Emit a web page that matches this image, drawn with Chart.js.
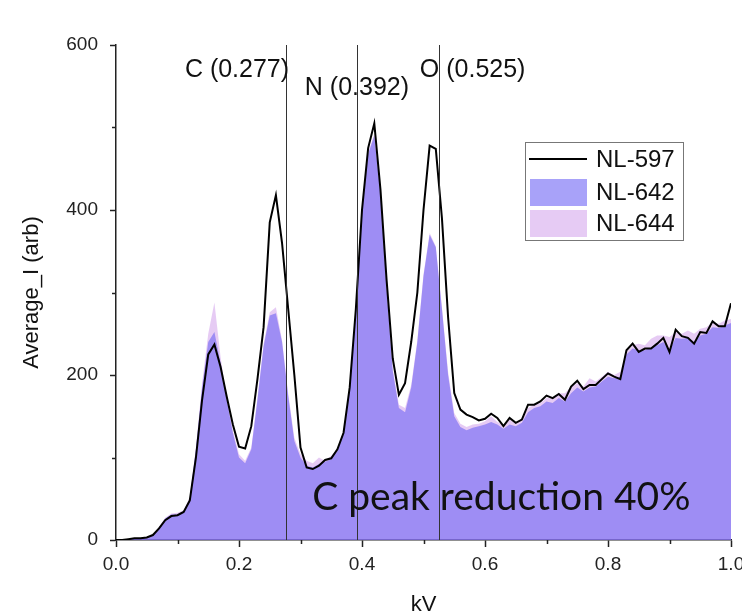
<!DOCTYPE html>
<html>
<head>
<meta charset="utf-8">
<script src="https://cdn.jsdelivr.net/npm/chart.js@4/dist/chart.umd.min.js"></script>
<style>
html, body { margin: 0; padding: 0; background: #fff; overflow: hidden; }
#wrap { width: 742px; height: 616px; position: relative; }
</style>
</head>
<body>
<div id="wrap"><canvas id="mycanvas" width="742" height="616"></canvas></div>
<script>
// energy axis (kV)
var kv = [0.00,0.01,0.02,0.03,0.04,0.05,0.06,0.07,0.08,0.09,
  0.10,0.11,0.12,0.13,0.14,0.15,0.16,0.17,0.18,0.19,
  0.20,0.21,0.22,0.23,0.24,0.25,0.26,0.27,0.28,0.29,
  0.30,0.31,0.32,0.33,0.34,0.35,0.36,0.37,0.38,0.39,
  0.40,0.41,0.42,0.43,0.44,0.45,0.46,0.47,0.48,0.49,
  0.50,0.51,0.52,0.53,0.54,0.55,0.56,0.57,0.58,0.59,
  0.60,0.61,0.62,0.63,0.64,0.65,0.66,0.67,0.68,0.69,
  0.70,0.71,0.72,0.73,0.74,0.75,0.76,0.77,0.78,0.79,
  0.80,0.81,0.82,0.83,0.84,0.85,0.86,0.87,0.88,0.89,
  0.90,0.91,0.92,0.93,0.94,0.95,0.96,0.97,0.98,0.99,1.00];

var nl597 = [0,0,1,2,2,3,6,14,24,29,
  30,34,48,100,170,225,237,210,174,140,
  113,111,138,195,258,385,418,360,280,200,
  112,88,86,90,97,99,110,130,185,280,
  400,475,505,425,315,220,176,190,240,300,
  400,478,474,390,270,178,158,152,149,145,
  147,153,148,138,148,142,146,164,164,168,
  175,172,177,170,186,193,183,188,188,195,
  202,198,195,230,238,228,232,232,238,245,
  228,255,247,245,238,252,251,265,259,259,287];

var nl642 = [0,0,1,2,2,3,6,15,26,31,
  31,35,50,110,185,240,252,215,170,130,
  100,93,110,170,235,272,275,240,175,120,
  100,90,88,92,95,98,108,130,185,280,
  400,468,490,420,305,205,160,155,185,240,
  320,370,355,280,200,150,137,133,136,138,
  140,143,140,135,140,138,142,155,160,162,
  168,166,172,168,178,185,180,185,186,192,
  198,196,198,225,232,230,230,233,236,240,
  230,245,244,245,240,248,250,258,257,260,263];

var nl644 = [0,0,1,2,2,3,6,16,27,32,
  33,36,52,112,190,250,288,222,172,133,
  104,96,112,172,238,276,282,242,178,124,
  104,96,93,100,96,102,110,132,186,282,
  402,470,492,418,306,208,164,160,188,242,
  322,372,356,282,204,154,141,137,140,141,
  144,150,143,140,146,141,148,160,164,166,
  172,172,178,178,186,190,186,196,192,198,
  204,200,204,228,236,238,236,244,248,248,
  246,252,250,254,250,256,258,264,262,266,268];

var seriesNames = ['NL-597', 'NL-642', 'NL-644'];
var peakLabels = ['C (0.277)', 'N (0.392)', 'O (0.525)'];
var peakKv = [0.277, 0.392, 0.525];
// where each peak label sits (kV of its left edge, intensity of its middle)
var peakLabelKv = [0.112, 0.307, 0.494];
var peakLabelI = [570, 548, 570];
var note = 'C peak reduction 40%';

function pts(ys) {
  var out = [];
  for (var i = 0; i < kv.length; i++) out.push({x: kv[i], y: ys[i]});
  return out;
}

var extras = {
  id: 'extras',
  afterDatasetsDraw: function(chart) {
    var ctx = chart.ctx;
    var xs = chart.scales.x, ys = chart.scales.y;
    var area = chart.chartArea;
    ctx.save();

    // minor ticks
    ctx.strokeStyle = '#222';
    ctx.lineWidth = 1.5;
    xs.ticks.forEach(function(t, i) {
      if (i % 2 == 1) {
        var px = Math.round(xs.getPixelForValue(t.value)) + 0.5;
        ctx.beginPath(); ctx.moveTo(px, area.bottom); ctx.lineTo(px, area.bottom + 4); ctx.stroke();
      }
    });
    ys.ticks.forEach(function(t, i) {
      if (i % 2 == 1) {
        var py = Math.round(ys.getPixelForValue(t.value)) + 0.5;
        ctx.beginPath(); ctx.moveTo(area.left, py); ctx.lineTo(area.left - 4, py); ctx.stroke();
      }
    });

    // peak markers
    ctx.strokeStyle = '#333';
    ctx.lineWidth = 1;
    ctx.fillStyle = '#111';
    ctx.font = '25px "Liberation Sans", Arial, sans-serif';
    ctx.textBaseline = 'middle';
    ctx.textAlign = 'left';
    for (var i = 0; i < peakKv.length; i++) {
      var px = Math.round(xs.getPixelForValue(peakKv[i])) + 0.5;
      ctx.beginPath(); ctx.moveTo(px, area.top); ctx.lineTo(px, area.bottom); ctx.stroke();
      ctx.fillText(peakLabels[i], xs.getPixelForValue(peakLabelKv[i]), ys.getPixelForValue(peakLabelI[i]));
    }

    // note
    ctx.font = '39px Lato, "Open Sans", sans-serif';
    ctx.fillStyle = '#111';
    ctx.fillText(note, xs.getPixelForValue(0.319), ys.getPixelForValue(52));

    // legend
    var lx = 525, ly = 142, lw = 158, lh = 98;
    ctx.fillStyle = '#fff';
    ctx.fillRect(lx, ly, lw, lh);
    ctx.strokeStyle = '#777';
    ctx.lineWidth = 1;
    ctx.strokeRect(lx + 0.5, ly + 0.5, lw, lh);
    var ds = chart.data.datasets;
    var rowY = [159, 192, 223];
    ctx.font = '24px "Liberation Sans", Arial, sans-serif';
    for (var j = 0; j < ds.length; j++) {
      if (j == 0) {
        ctx.strokeStyle = ds[j].borderColor;
        ctx.lineWidth = 2;
        ctx.beginPath(); ctx.moveTo(529, rowY[j]); ctx.lineTo(587, rowY[j]); ctx.stroke();
      } else {
        ctx.fillStyle = ds[j].backgroundColor;
        ctx.fillRect(530, rowY[j] - 13, 57, 27);
      }
      ctx.fillStyle = '#111';
      ctx.fillText(ds[j].label, 596, rowY[j] + 1);
    }
    ctx.restore();
  }
};

var ctx = document.getElementById('mycanvas');

var chart = new Chart(ctx, {
  type: 'line',
  data: {
    datasets: [
      {
        label: seriesNames[0],
        data: pts(nl597),
        borderColor: '#000',
        borderWidth: 2,
        pointRadius: 0,
        fill: false,
        tension: 0
      },
      {
        label: seriesNames[1],
        data: pts(nl642),
        borderColor: 'rgba(110,100,245,0.6)',
        backgroundColor: 'rgba(110,100,245,0.6)',
        borderWidth: 0,
        pointRadius: 0,
        fill: 'origin',
        tension: 0
      },
      {
        label: seriesNames[2],
        data: pts(nl644),
        borderColor: 'rgba(210,160,235,0.55)',
        backgroundColor: 'rgba(210,160,235,0.55)',
        borderWidth: 0,
        pointRadius: 0,
        fill: 'origin',
        tension: 0
      }
    ]
  },
  options: {
    responsive: false,
    animation: false,
    devicePixelRatio: 1,
    layout: { padding: { left: 0, top: 45, right: 11, bottom: 0 } },
    plugins: {
      legend: { display: false },
      tooltip: { enabled: false }
    },
    scales: {
      x: {
        type: 'linear',
        min: 0,
        max: 1,
        afterFit: function(s) { s.height = 76; s.paddingRight = 0; },
        ticks: {
          stepSize: 0.1,
          maxRotation: 0,
          autoSkip: false,
          padding: 6,
          color: '#222',
          font: { family: '"Liberation Sans", Arial, sans-serif', size: 19 },
          callback: function(v, i) { return i % 2 == 0 ? v.toFixed(1) : ''; }
        },
        grid: {
          drawOnChartArea: false,
          tickLength: 7,
          tickWidth: 1.5,
          tickColor: function(c) { return c.index % 2 == 0 ? '#222' : 'rgba(0,0,0,0)'; }
        },
        border: { color: '#222', width: 1.5 },
        title: {
          display: true,
          text: 'kV',
          color: '#111',
          padding: 0,
          font: { family: '"Liberation Sans", Arial, sans-serif', size: 22, lineHeight: 1 }
        }
      },
      y: {
        min: 0,
        max: 600,
        afterFit: function(s) { s.width = 116; },
        ticks: {
          stepSize: 100,
          padding: 12,
          color: '#222',
          font: { family: '"Liberation Sans", Arial, sans-serif', size: 19 },
          callback: function(v, i) { return i % 2 == 0 ? String(v) : ''; }
        },
        grid: {
          drawOnChartArea: false,
          tickLength: 6,
          tickWidth: 1.5,
          tickColor: function(c) { return c.index % 2 == 0 ? '#222' : 'rgba(0,0,0,0)'; }
        },
        border: { color: '#222', width: 1.5 },
        title: {
          display: true,
          text: 'Average_I (arb)',
          color: '#111',
          padding: { top: 21, bottom: 0 },
          font: { family: '"Liberation Sans", Arial, sans-serif', size: 22, lineHeight: 1 }
        }
      }
    }
  },
  plugins: [extras]
});
</script>
</body>
</html>
